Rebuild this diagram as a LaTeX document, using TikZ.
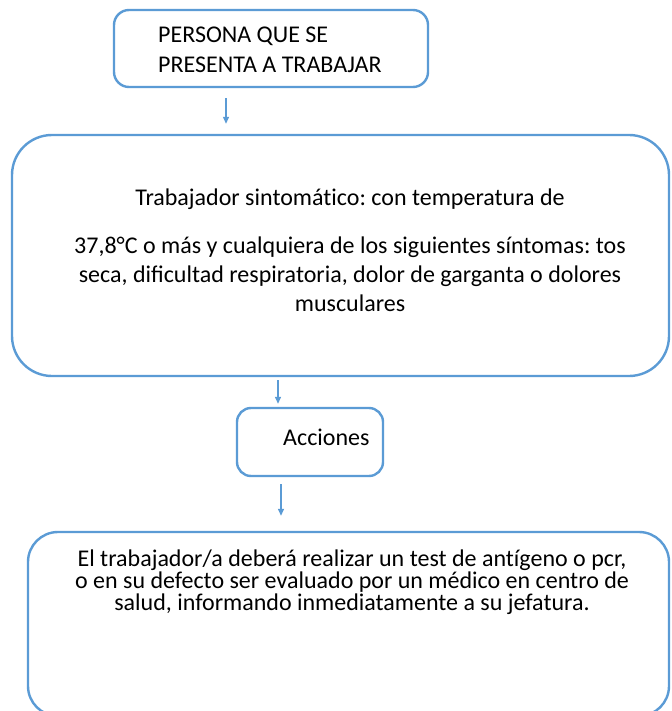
\documentclass[tikz,border=0pt]{standalone}
\usepackage{fontspec}
\setmainfont[Ligatures=NoCommon]{Carlito}
\usetikzlibrary{calc,positioning,arrows.meta}
\definecolor{frame}{HTML}{5B9BD5}
\newcommand{\Body}{\fontsize{24}{29}\selectfont}
\newcommand{\Tight}{\fontsize{24}{22}\selectfont}
\frenchspacing

\begin{document}
\begin{tikzpicture}[x=1pt,y=-1pt, font=\Body,
    box/.style={draw=frame, line width=2.4pt, inner sep=0pt},
    txt/.style={inner sep=0pt, text=black},
    arr/.style={draw=frame, line width=1.3pt, -{Triangle[width=6pt,length=7pt]}}]
  \useasboundingbox (0,0) rectangle (671,711);
  % boxes
  \node[box, rounded corners=15, minimum width=314, minimum height=77] (pers) at (271,48.5) {};
  \node[box, rounded corners=40, minimum width=657, minimum height=241] (sint) at (340.5,255.5) {};
  \node[box, rounded corners=14, minimum width=146, minimum height=68] (acc) at (310,442) {};
  \node[box, rounded corners=30, minimum width=641, minimum height=184] (act) at (348.5,624) {};
  % texts
  \node[txt, anchor=west, align=left, font=\fontsize{24}{30}\selectfont] (perstxt) at (158,50) {PERSONA QUE SE\\PRESENTA A TRABAJAR};
  \node[txt, align=center] (sinttxt) at (350,250) {Trabajador sintomático: con temperatura de\\[19pt]
    37,8°C o más y cualquiera de los siguientes síntomas: tos\\
    seca, diﬁcultad respiratoria, dolor de garganta o dolores\\
    musculares};
  \node[txt, anchor=west] (acctxt) at (283,437) {Acciones};
  \node[txt, align=center, font=\Tight] (acttxt) at (352,582) {El trabajador/a deberá realizar un test de antígeno o pcr,\\
    o en su defecto ser evaluado por un médico en centro de\\
    salud, informando inmediatamente a su jefatura.};
  % arrows
  \coordinate (a1) at (226,0);
  \coordinate (a2) at (278,0);
  \coordinate (a3) at (281,0);
  \draw[arr, shorten <=10pt, shorten >=10pt] (a1 |- pers.south) -- (a1 |- sint.north);
  \draw[arr, shorten <=3pt, shorten >=3pt] (a2 |- sint.south) -- (a2 |- acc.north);
  \draw[arr, shorten <=7pt, shorten >=15pt] (a3 |- acc.south) -- (a3 |- act.north);
\end{tikzpicture}
\end{document}
